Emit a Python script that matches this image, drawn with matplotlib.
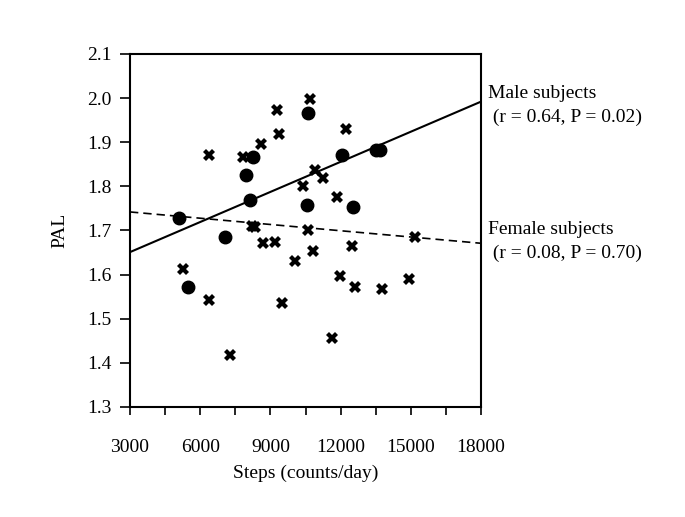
import matplotlib
matplotlib.use("Agg")
import matplotlib.pyplot as plt
from matplotlib.ticker import MultipleLocator

plt.rcParams['font.family'] = ['Liberation Serif', 'DejaVu Serif']

# male subjects (circles)
male_steps = [5100, 5470, 7060, 7960, 8130, 8260, 10620, 10550, 12070, 12550, 13510, 13690]
male_pal = [1.729, 1.573, 1.685, 1.825, 1.770, 1.866, 1.967, 1.757, 1.870, 1.753, 1.882, 1.882]

# female subjects (crosses)
female_steps = [6380, 7840, 8600, 9300, 9380, 10680, 12220, 10910, 11240, 10390, 11860,
                8200, 8340, 8670, 9210, 10620, 10810, 10050, 12500, 15180, 5270, 6380,
                9500, 11990, 12630, 13760, 14930, 7290, 11650]
female_pal = [1.870, 1.867, 1.895, 1.974, 1.918, 1.999, 1.930, 1.838, 1.820, 1.800, 1.775,
              1.711, 1.708, 1.671, 1.675, 1.702, 1.653, 1.630, 1.664, 1.686, 1.612, 1.543,
              1.535, 1.597, 1.571, 1.567, 1.590, 1.418, 1.457]

# regression lines (ends at the axis limits)
fit_x = [3000, 18000]
male_fit = [1.651, 1.992]
female_fit = [1.742, 1.671]

male_text = "Male subjects\n (r = 0.64, P = 0.02)"
female_text = "Female subjects\n (r = 0.08, P = 0.70)"

fig = plt.figure(figsize=(6.85, 5.17), dpi=100)
ax = fig.add_axes([0.1898, 0.2128, 0.5124, 0.6828])

ax.plot(fit_x, male_fit, color='black', linewidth=1.5)
ax.plot(fit_x, female_fit, color='black', linewidth=1.2, linestyle=(0, (5, 3)))
ax.plot(female_steps, female_pal, linestyle='none', marker='X', markersize=9,
        color='black', markeredgewidth=0)
ax.plot(male_steps, male_pal, linestyle='none', marker='o', markersize=9,
        color='black')

ax.set_xlim(3000, 18000)
ax.set_ylim(1.3, 2.1)
ax.xaxis.set_major_locator(MultipleLocator(3000))
ax.xaxis.set_minor_locator(MultipleLocator(1500))
ax.yaxis.set_major_locator(MultipleLocator(0.1))
ax.yaxis.set_major_formatter('{x:.1f}')
ax.tick_params(axis='x', which='both', direction='out', length=6, width=1.2,
               labelsize=14, pad=17)
ax.tick_params(axis='y', direction='out', length=7, width=1.2, labelsize=14, pad=6)
ax.tick_params(top=False, right=False)
for s in ax.spines.values():
    s.set_linewidth(1.5)

ax.set_xlabel('Steps (counts/day)', fontsize=14, labelpad=6)
ax.set_ylabel('PAL', fontsize=14, labelpad=14)

ax.annotate(male_text, xy=(1.02, 0.913), xycoords='axes fraction', fontsize=14,
            va='top', ha='left', linespacing=1.55)
ax.annotate(female_text, xy=(1.02, 0.527), xycoords='axes fraction', fontsize=14,
            va='top', ha='left', linespacing=1.5)

fig.savefig('out.png', dpi=100)
